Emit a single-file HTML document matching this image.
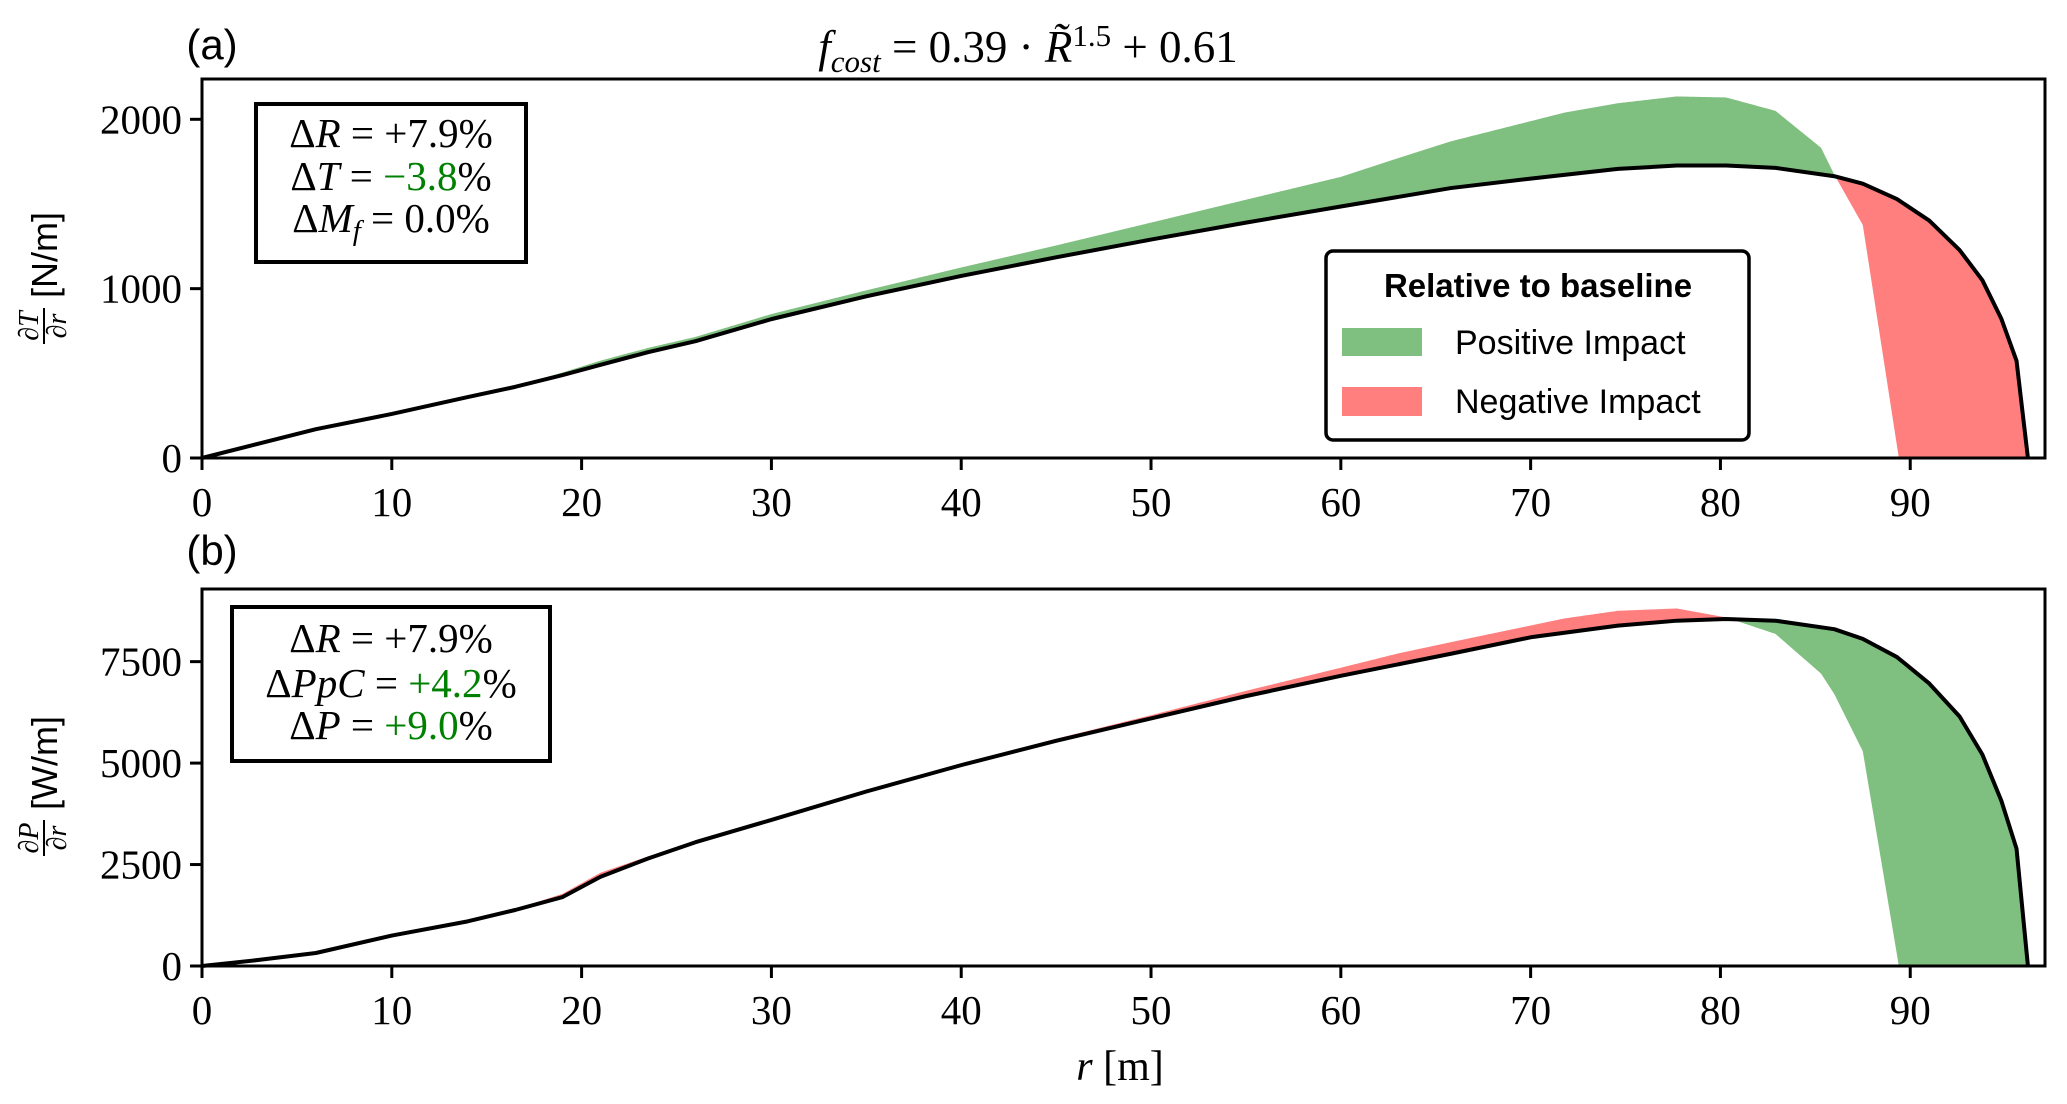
<!DOCTYPE html>
<html><head><meta charset="utf-8">
<style>
html,body{margin:0;padding:0;background:#fff;}
svg{display:block;}
.tick{font-family:"Liberation Serif",serif;font-size:41px;fill:#000;}
.math{font-family:"Liberation Serif",serif;fill:#000;}
.sans{font-family:"Liberation Sans",sans-serif;fill:#000;}
</style></head>
<body>
<svg id="chart" width="2067" height="1104" viewBox="0 0 2067 1104" xmlns="http://www.w3.org/2000/svg">
<rect x="0" y="0" width="2067" height="1104" fill="#fff"/>
<text class="math" x="1028" y="62" text-anchor="middle" font-size="45"><tspan font-style="italic">f</tspan><tspan font-style="italic" font-size="31" dy="10">cost</tspan><tspan dy="-10"> = 0.39 · </tspan><tspan font-style="italic">R̃</tspan><tspan font-size="31" dy="-16">1.5</tspan><tspan dy="16"> + 0.61</tspan></text>
<text class="sans" x="212" y="59" text-anchor="middle" font-size="42">(a)</text>
<text class="sans" x="212" y="565" text-anchor="middle" font-size="42">(b)</text>
<g id="pa"></g>
<g id="pb"></g>
<text class="math" x="1120" y="1080" text-anchor="middle" font-size="42"><tspan font-style="italic">r</tspan>  [m]</text>

<g transform="translate(44,268) rotate(-90)">
<text class="math" x="-58" y="-6" text-anchor="middle" font-size="28" font-style="italic">∂T</text>
<line x1="-76" x2="-40" y1="0" y2="0" stroke="#000" stroke-width="2"/>
<text class="math" x="-58" y="22" text-anchor="middle" font-size="28" font-style="italic">∂r</text>
<text class="sans" x="-30" y="13" font-size="36">[N/m]</text>
</g>
<g transform="translate(44,778) rotate(-90)">
<text class="math" x="-60" y="-6" text-anchor="middle" font-size="28" font-style="italic">∂P</text>
<line x1="-78" x2="-42" y1="0" y2="0" stroke="#000" stroke-width="2"/>
<text class="math" x="-60" y="22" text-anchor="middle" font-size="28" font-style="italic">∂r</text>
<text class="sans" x="-32" y="13" font-size="36">[W/m]</text>
</g>

<g>
<rect x="256" y="104" width="270" height="158" fill="#fff" stroke="#000" stroke-width="4"/>
<text class="math" x="391" y="147" text-anchor="middle" font-size="41">Δ<tspan font-style="italic">R</tspan> = +7.9%</text>
<text class="math" x="391" y="190" text-anchor="middle" font-size="41">Δ<tspan font-style="italic">T</tspan> = <tspan fill="#008000">−3.8</tspan>%</text>
<text class="math" x="391" y="232" text-anchor="middle" font-size="41">Δ<tspan font-style="italic">M</tspan><tspan font-style="italic" font-size="29" dy="8">f</tspan><tspan dy="-8"> = 0.0%</tspan></text>
</g>
<g>
<rect x="232" y="607" width="318" height="154" fill="#fff" stroke="#000" stroke-width="4"/>
<text class="math" x="391" y="652" text-anchor="middle" font-size="41">Δ<tspan font-style="italic">R</tspan> = +7.9%</text>
<text class="math" x="391" y="697" text-anchor="middle" font-size="41">Δ<tspan font-style="italic">PpC</tspan> = <tspan fill="#008000">+4.2</tspan>%</text>
<text class="math" x="391" y="739" text-anchor="middle" font-size="41">Δ<tspan font-style="italic">P</tspan> = <tspan fill="#008000">+9.0</tspan>%</text>
</g>
<g>
<rect x="1326" y="251" width="423" height="189" rx="7" fill="#fff" stroke="#000" stroke-width="3.5"/>
<text class="sans" x="1538" y="297" text-anchor="middle" font-size="33" font-weight="bold">Relative to baseline</text>
<rect x="1342" y="328" width="80" height="28" fill="#7fbf7f"/>
<text class="sans" x="1455" y="354" font-size="34">Positive Impact</text>
<rect x="1342" y="387" width="80" height="29" fill="#ff7f7f"/>
<text class="sans" x="1455" y="413" font-size="34">Negative Impact</text>
</g>
</svg>
<script>
// Panel (a): thrust distribution
const rBase = [0,3,6,10,14,16.5,19,21,23.5,26,30,35,40,45,50,55,60,65.8,70,74.6,77.7,80.3,82.9,86,87.5,89.3,91,92.6,93.8,94.8,95.6,96.2];
const tBase = [0,85,170,260,360,420,490,550,625,690,820,955,1075,1185,1290,1390,1485,1594,1650,1707,1727,1727,1713,1664,1620,1529,1402,1228,1050,822,574,0];
const rNew = [0,3,6,10,14,16.5,19,21,23.5,26,30,35,40,45,50,55,60,63,65.8,71.8,74.6,77.7,80.3,82.9,85.3,86.0,87.5,89.4];
const tNew = [0,85,170,260,360,425,505,575,650,715,850,990,1125,1255,1390,1525,1660,1770,1870,2040,2095,2135,2129,2050,1832,1673,1376,0];
// Panel (b): power distribution
const pBase = [0,150,320,750,1100,1380,1700,2200,2650,3050,3600,4300,4950,5550,6100,6650,7150,7695,8100,8387,8509,8550,8509,8300,8061,7613,6962,6148,5211,4071,2891,0];
const pNew = [0,150,320,750,1100,1400,1780,2300,2700,3080,3620,4320,4980,5600,6180,6780,7350,7700,7980,8566,8753,8810,8590,8183,7206,6700,5293,0];
const xTicks = [0,10,20,30,40,50,60,70,80,90];
const yTicksA = [0,1000,2000];
const yTicksB = [0,2500,5000,7500];

const NS = "http://www.w3.org/2000/svg";
const X0 = 202, X1 = 2045, XMAX = 97.1;
function xs(r){ return X0 + r/XMAX*(X1-X0); }
function mk(tag, attrs, parent){
  const e = document.createElementNS(NS, tag);
  for (const k in attrs) e.setAttribute(k, attrs[k]);
  parent.appendChild(e); return e;
}
function interp(rs, vs, r){
  if (r >= rs[rs.length-1]) return 0;
  for (let i=1;i<rs.length;i++){ if (r<=rs[i]){ const t=(r-rs[i-1])/(rs[i]-rs[i-1]); return vs[i-1]+t*(vs[i]-vs[i-1]); } }
  return 0;
}
function panel(g, top, bot, ymax, yTicks, base, nw, upColor, downColor, pre){
  const ys = v => bot - v/ymax*(bot-top);
  const grid = [];
  const rEnd = rBase[rBase.length-1];
  for (let r=0; r<=rEnd+1e-9; r+=0.05) grid.push(r);
  grid.push(rEnd);
  const b = grid.map(r=>interp(rBase, base, r));
  const n = grid.map(r=>interp(rNew, nw, r));
  let up = "", dn = "";
  grid.forEach((r,i)=>{ up += (i?"L":"M")+xs(r).toFixed(2)+","+ys(Math.max(b[i],n[i])).toFixed(2); dn += (i?"L":"M")+xs(r).toFixed(2)+","+ys(b[i]).toFixed(2); });
  for (let i=grid.length-1;i>=0;i--){ up += "L"+xs(grid[i]).toFixed(2)+","+ys(b[i]).toFixed(2); dn += "L"+xs(grid[i]).toFixed(2)+","+ys(Math.min(b[i],n[i])).toFixed(2); }
  const f1 = mk("path",{d:up+"Z",fill:upColor,stroke:"none"},g);
  
  
  const f2 = mk("path",{d:dn+"Z",fill:downColor,stroke:"none"},g);
  
  
  const pts = rBase.map((r,i)=>xs(r).toFixed(2)+","+ys(base[i]).toFixed(2)).join(" ");
  const ln = mk("polyline",{points:pts,fill:"none",stroke:"#000","stroke-width":4,"stroke-linejoin":"round"},g);
  
  
  const fr = mk("rect",{x:X0,y:top,width:X1-X0,height:bot-top,fill:"none",stroke:"#000","stroke-width":3},g);
  
  
  xTicks.forEach(t=>{
    const tl = mk("line",{x1:xs(t),x2:xs(t),y1:bot,y2:bot+12,stroke:"#000","stroke-width":3},g);
    
    
    const tx = mk("text",{x:xs(t),y:bot+58,"text-anchor":"middle",class:"tick"},g);
    tx.textContent = t;
    
    
  });
  yTicks.forEach(t=>{
    const tl = mk("line",{x1:X0-12,x2:X0,y1:ys(t),y2:ys(t),stroke:"#000","stroke-width":3},g);
    
    
    const tx = mk("text",{x:X0-20,y:ys(t)+14,"text-anchor":"end",class:"tick"},g);
    tx.textContent = t;
    
    
  });
}
panel(document.getElementById("pa"), 79, 458, 2238, yTicksA, tBase, tNew, "#7fbf7f", "#ff7f7f", "panel-a");
panel(document.getElementById("pb"), 589, 966, 9290, yTicksB, pBase, pNew, "#ff7f7f", "#7fbf7f", "panel-b");
</script>
</body></html>
